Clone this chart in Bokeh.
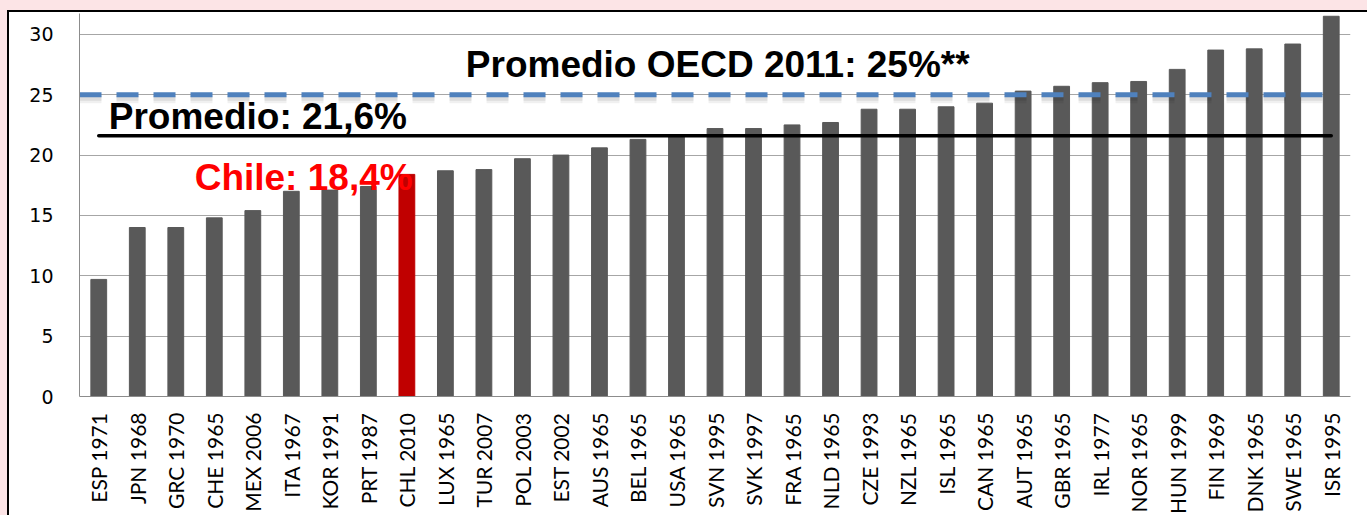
import math
from bokeh.plotting import figure
from bokeh.models import FactorRange, Range1d, FixedTicker, ColumnDataSource
from bokeh.core.properties import value
from bokeh.embed import file_html
from bokeh.resources import INLINE

# ---------------- data ----------------
categories = ["ESP 1971", "JPN 1968", "GRC 1970", "CHE 1965", "MEX 2006", "ITA 1967",
              "KOR 1991", "PRT 1987", "CHL 2010", "LUX 1965", "TUR 2007", "POL 2003",
              "EST 2002", "AUS 1965", "BEL 1965", "USA 1965", "SVN 1995", "SVK 1997",
              "FRA 1965", "NLD 1965", "CZE 1993", "NZL 1965", "ISL 1965", "CAN 1965",
              "AUT 1965", "GBR 1965", "IRL 1977", "NOR 1965", "HUN 1999", "FIN 1969",
              "DNK 1965", "SWE 1965", "ISR 1995"]
values = [9.7, 14.0, 14.0, 14.8, 15.4, 17.0, 17.1, 17.4, 18.4, 18.7, 18.8, 19.7,
          20.0, 20.6, 21.3, 21.7, 22.2, 22.2, 22.5, 22.7, 23.8, 23.8, 24.0, 24.3,
          25.3, 25.7, 26.0, 26.1, 27.1, 28.7, 28.8, 29.2, 31.5]
highlight = "CHL 2010"
promedio = 21.6
promedio_oecd = 25.0
y_ticks = [0, 5, 10, 15, 20, 25, 30]
label_promedio = "Promedio: 21,6%"
label_oecd = "Promedio OECD 2011: 25%**"
label_chile = "Chile: 18,4%"

BAR = "#595959"
RED = "#C00000"
PINK = "#FCE4E6"

colors = [RED if c == highlight else BAR for c in categories]
src = ColumnDataSource(dict(cat=categories, val=values, color=colors))

p = figure(x_range=FactorRange(*categories), y_range=Range1d(0, 31.73),
           frame_width=1271, frame_height=383,
           min_border_left=70, min_border_right=17, min_border_top=1, min_border_bottom=119,
           output_backend="svg", toolbar_location=None,
           background_fill_color="white", border_fill_color="white",
           outline_line_color=None)

# outer black box border with pink surround (CSS on the plot element)
p.styles = {
    "margin-left": "7px",
    "margin-top": "10px",
    "border-left": "2px solid black",
    "border-top": "2px solid black",
    "box-shadow": f"-7px 0 0 0 {PINK}, 0 -10px 0 0 {PINK}, -7px -10px 0 0 {PINK}",
}

# bars
p.vbar(x="cat", top="val", width=0.41, color="color", source=src)

# OECD dashed line with soft shadow
x_oecd = [(categories[0], -0.5), (categories[-1], 0.0)]
p.line(x=x_oecd, y=[promedio_oecd - 0.33] * 2, line_color="black", line_alpha=0.06,
       line_width=9, line_dash="22 15")
p.line(x=x_oecd, y=[promedio_oecd - 0.3] * 2, line_color="black", line_alpha=0.08,
       line_width=5, line_dash="22 15")
p.line(x=x_oecd, y=[promedio_oecd] * 2, line_color="#4F81BD", line_width=5,
       line_dash="22 15")

# average line
p.line(x=[categories[0], categories[-1]], y=[promedio] * 2, line_color="black",
       line_width=3.5, line_cap="round")

# annotation texts
font = value("Liberation Sans")
p.text(x=[("TUR 2007", -0.47)], y=[27.5], text=[label_oecd], text_font=font,
       text_font_size="37px", text_font_style="bold", text_color="black",
       text_baseline="alphabetic", text_align="left")
p.text(x=[("ESP 1971", 0.26)], y=[23.18], text=[label_promedio], text_font=font,
       text_font_size="37px", text_font_style="bold", text_color="black",
       text_baseline="alphabetic", text_align="left")
p.text(x=[("CHE 1965", -0.51)], y=[18.15], text=[label_chile], text_font=font,
       text_font_size="37px", text_font_style="bold", text_color="#FF0000",
       text_baseline="alphabetic", text_align="left")

# axes
p.xgrid.grid_line_color = None
p.ygrid.grid_line_color = "#A6A6A6"
p.ygrid.grid_line_width = 1
p.yaxis.ticker = FixedTicker(ticks=y_ticks)
p.ygrid.ticker = FixedTicker(ticks=y_ticks)

for ax in (p.xaxis[0], p.yaxis[0]):
    ax.axis_line_color = "#8C8C8C"
    ax.axis_line_width = 1
    ax.major_tick_line_color = None
    ax.minor_tick_line_color = None
    ax.major_tick_out = 0
    ax.major_tick_in = 0
    ax.major_label_text_color = "black"

p.yaxis.major_label_text_font = "DejaVu Sans"
p.yaxis.major_label_text_font_size = "19px"
p.yaxis.major_label_standoff = 26

p.xaxis.major_label_text_font = "Lato"
p.xaxis.major_label_text_font_size = "21px"
p.xaxis.major_label_orientation = math.pi / 2
p.xaxis.major_label_standoff = 16

open("out.html", "w").write(file_html(p, INLINE))
